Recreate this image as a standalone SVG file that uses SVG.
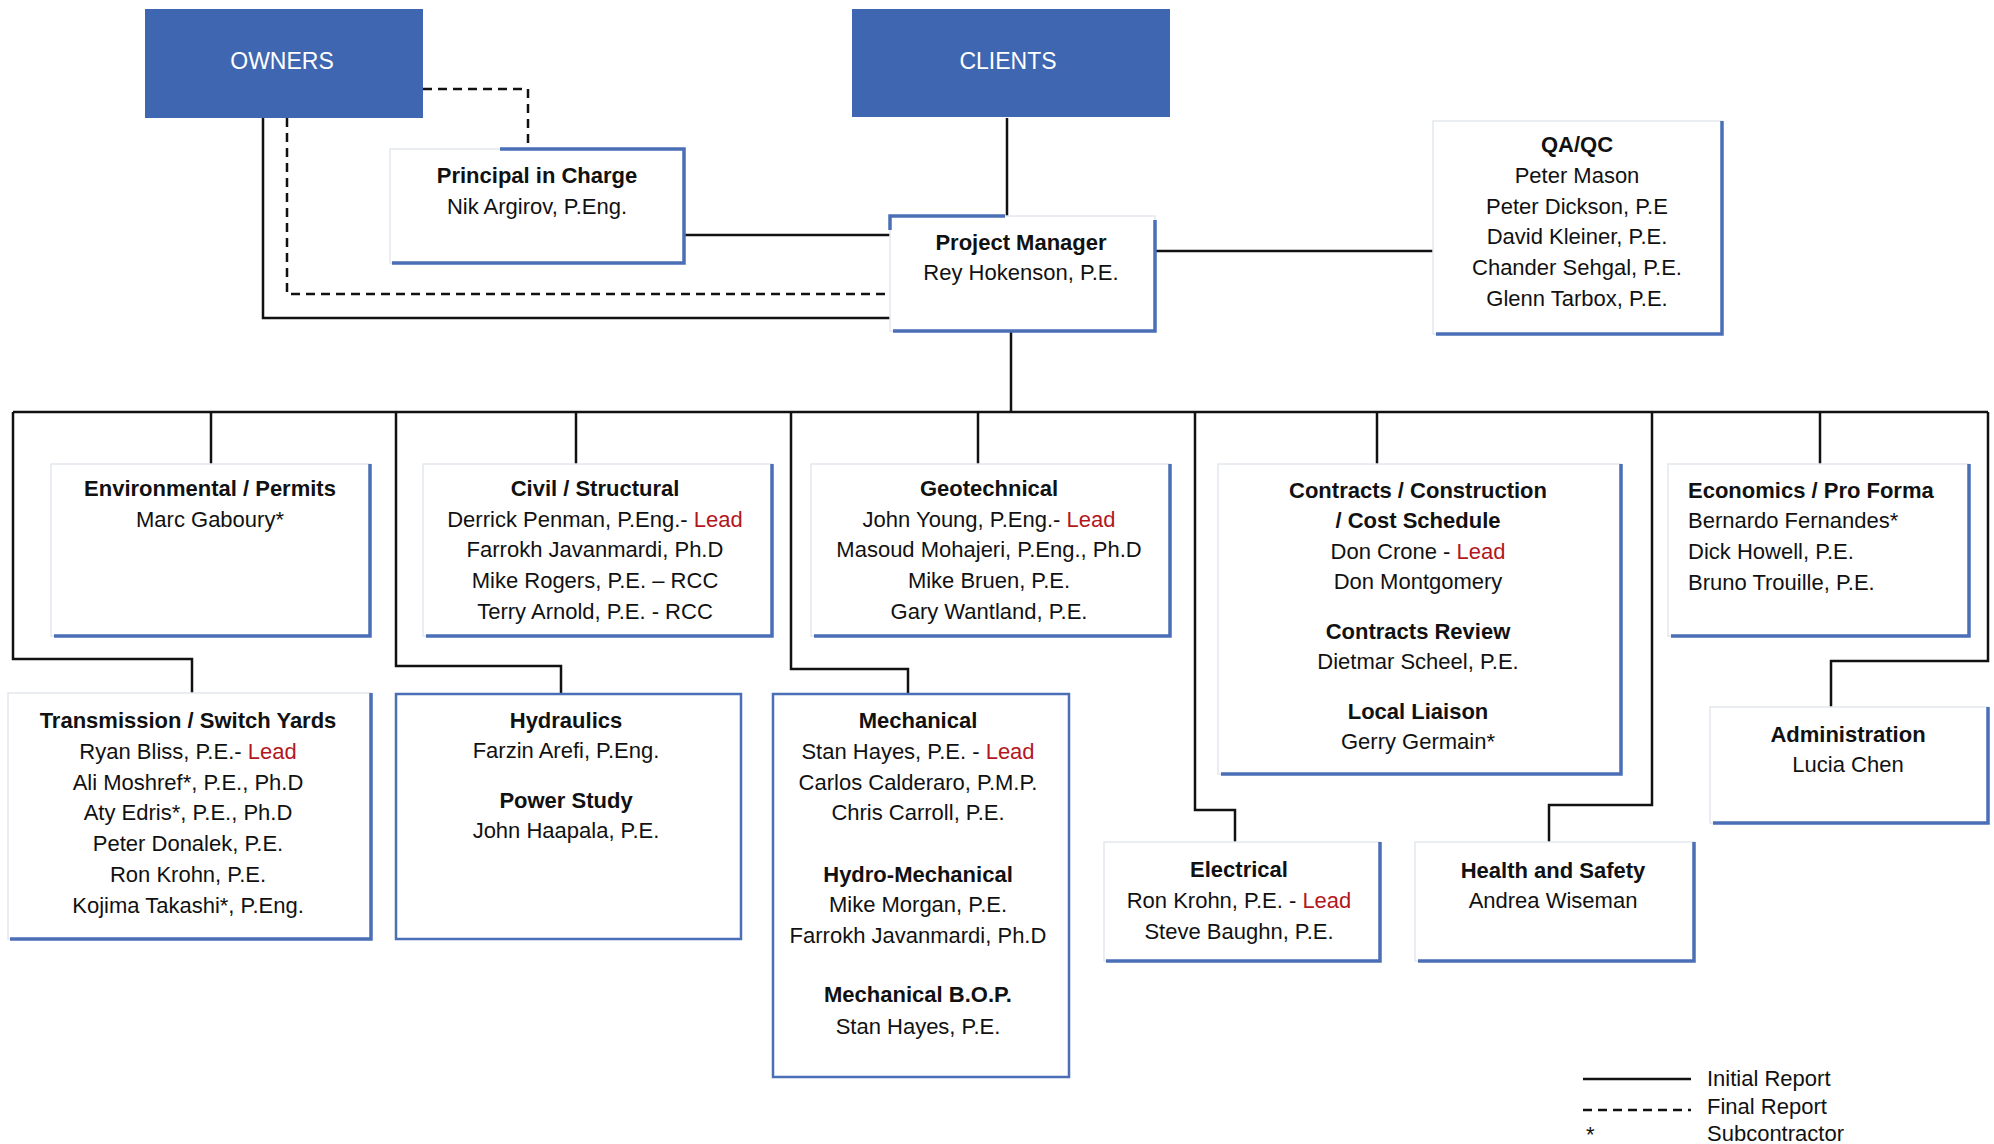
<svg xmlns="http://www.w3.org/2000/svg" width="1994" height="1144" viewBox="0 0 1994 1144">
<style>
.bg{fill:#ffffff}
.top{fill:#3f66b0}
.toptxt{font-family:"Liberation Sans",Arial,sans-serif;font-size:23px;fill:#ffffff;text-anchor:middle}
.box{fill:#ffffff;stroke:#e4e7ee;stroke-width:1.5}
.edge{fill:none;stroke:#4b6fb6;stroke-width:3.5}
.frame{fill:#ffffff;stroke:#4b6fb6;stroke-width:2.5}
.t{font-family:"Liberation Sans",Arial,sans-serif;font-size:22px;fill:#111111;text-anchor:middle}
.b{font-weight:bold}
.l{text-anchor:start}
.lead{fill:#b3171d}
.ln{fill:none;stroke:#111111;stroke-width:2.5}
.dash{fill:none;stroke:#111111;stroke-width:2.5;stroke-dasharray:9 6}
</style>
<rect class="bg" x="0" y="0" width="1994" height="1144"/>

<g id="connectors">
<path class="ln" d="M263,118 V318 H890"/>
<path class="dash" d="M287,118 V294 H890"/>
<path class="dash" d="M423,89 H528 V149"/>
<path class="ln" d="M684,235 H890"/>
<path class="ln" d="M1007,118 V216"/>
<path class="ln" d="M1155,251 H1433"/>
<path class="ln" d="M1011,331 V412"/>
<path class="ln" d="M13,412 H1988"/>
<path class="ln" d="M211,412 V464"/>
<path class="ln" d="M576,412 V464"/>
<path class="ln" d="M978,412 V464"/>
<path class="ln" d="M1377,412 V464"/>
<path class="ln" d="M1820,412 V464"/>
<path class="ln" d="M13,412 V659 H192 V693"/>
<path class="ln" d="M396,412 V666 H561 V694"/>
<path class="ln" d="M791,412 V669 H908 V694"/>
<path class="ln" d="M1195,412 V810 H1235 V842"/>
<path class="ln" d="M1652,412 V805 H1549 V842"/>
<path class="ln" d="M1988,412 V661 H1831 V707"/>
</g>

<g id="owners">
<rect class="top" x="145" y="9" width="278" height="109"/>
<text class="toptxt" x="282" y="69">OWNERS</text>
</g>

<g id="clients">
<rect class="top" x="852" y="9" width="318" height="108"/>
<text class="toptxt" x="1008" y="69">CLIENTS</text>
</g>

<g id="principal">
<rect class="box" x="390" y="149" width="294" height="114"/>
<path class="edge" d="M500,149 H684 V263 H392"/>
<text class="t b" x="537" y="183">Principal in Charge</text>
<text class="t" x="537" y="214">Nik Argirov, P.Eng.</text>
</g>

<g id="project-manager">
<rect class="box" x="890" y="216" width="265" height="115"/>
<path class="edge" d="M890,230 V216 H1005"/>
<path class="edge" d="M1155,220 V331 H893"/>
<text class="t b" x="1021" y="250">Project Manager</text>
<text class="t" x="1021" y="280">Rey Hokenson, P.E.</text>
</g>

<g id="qaqc">
<rect class="box" x="1433" y="121" width="289" height="213"/>
<path class="edge" d="M1722,121 V334 H1436"/>
<text class="t b" x="1577" y="152">QA/QC</text>
<text class="t" x="1577" y="183">Peter Mason</text>
<text class="t" x="1577" y="214">Peter Dickson, P.E</text>
<text class="t" x="1577" y="244">David Kleiner, P.E.</text>
<text class="t" x="1577" y="275">Chander Sehgal, P.E.</text>
<text class="t" x="1577" y="306">Glenn Tarbox, P.E.</text>
</g>

<g id="environmental">
<rect class="box" x="51" y="464" width="319" height="172"/>
<path class="edge" d="M370,464 V636 H54"/>
<text class="t b" x="210" y="496">Environmental / Permits</text>
<text class="t" x="210" y="527">Marc Gaboury*</text>
</g>

<g id="civil">
<rect class="box" x="423" y="464" width="349" height="172"/>
<path class="edge" d="M772,464 V636 H426"/>
<text class="t b" x="595" y="496">Civil / Structural</text>
<text class="t" x="595" y="527">Derrick Penman, P.Eng.- <tspan class="lead">Lead</tspan></text>
<text class="t" x="595" y="557">Farrokh Javanmardi, Ph.D</text>
<text class="t" x="595" y="588">Mike Rogers, P.E. – RCC</text>
<text class="t" x="595" y="619">Terry Arnold, P.E. - RCC</text>
</g>

<g id="geotechnical">
<rect class="box" x="811" y="464" width="359" height="172"/>
<path class="edge" d="M1170,464 V636 H814"/>
<text class="t b" x="989" y="496">Geotechnical</text>
<text class="t" x="989" y="527">John Young, P.Eng.- <tspan class="lead">Lead</tspan></text>
<text class="t" x="989" y="557">Masoud Mohajeri, P.Eng., Ph.D</text>
<text class="t" x="989" y="588">Mike Bruen, P.E.</text>
<text class="t" x="989" y="619">Gary Wantland, P.E.</text>
</g>

<g id="contracts">
<rect class="box" x="1218" y="464" width="403" height="310"/>
<path class="edge" d="M1621,464 V774 H1221"/>
<text class="t b" x="1418" y="498">Contracts / Construction</text>
<text class="t b" x="1418" y="528">/ Cost Schedule</text>
<text class="t" x="1418" y="559">Don Crone - <tspan class="lead">Lead</tspan></text>
<text class="t" x="1418" y="589">Don Montgomery</text>
<text class="t b" x="1418" y="639">Contracts Review</text>
<text class="t" x="1418" y="669">Dietmar Scheel, P.E.</text>
<text class="t b" x="1418" y="719">Local Liaison</text>
<text class="t" x="1418" y="749">Gerry Germain*</text>
</g>

<g id="economics">
<rect class="box" x="1668" y="464" width="301" height="172"/>
<path class="edge" d="M1969,464 V636 H1671"/>
<text class="t b l" x="1688" y="498">Economics / Pro Forma</text>
<text class="t l" x="1688" y="528">Bernardo Fernandes*</text>
<text class="t l" x="1688" y="559">Dick Howell, P.E.</text>
<text class="t l" x="1688" y="590">Bruno Trouille, P.E.</text>
</g>

<g id="transmission">
<rect class="box" x="8" y="693" width="363" height="246"/>
<path class="edge" d="M371,693 V939 H10"/>
<text class="t b" x="188" y="728">Transmission / Switch Yards</text>
<text class="t" x="188" y="759">Ryan Bliss, P.E.- <tspan class="lead">Lead</tspan></text>
<text class="t" x="188" y="790">Ali Moshref*, P.E., Ph.D</text>
<text class="t" x="188" y="820">Aty Edris*, P.E., Ph.D</text>
<text class="t" x="188" y="851">Peter Donalek, P.E.</text>
<text class="t" x="188" y="882">Ron Krohn, P.E.</text>
<text class="t" x="188" y="913">Kojima Takashi*, P.Eng.</text>
</g>

<g id="hydraulics">
<rect class="frame" x="396" y="694" width="345" height="245"/>
<text class="t b" x="566" y="728">Hydraulics</text>
<text class="t" x="566" y="758">Farzin Arefi, P.Eng.</text>
<text class="t b" x="566" y="808">Power Study</text>
<text class="t" x="566" y="838">John Haapala, P.E.</text>
</g>

<g id="mechanical">
<rect class="frame" x="773" y="694" width="296" height="383"/>
<text class="t b" x="918" y="728">Mechanical</text>
<text class="t" x="918" y="759">Stan Hayes, P.E. - <tspan class="lead">Lead</tspan></text>
<text class="t" x="918" y="790">Carlos Calderaro, P.M.P.</text>
<text class="t" x="918" y="820">Chris Carroll, P.E.</text>
<text class="t b" x="918" y="882">Hydro-Mechanical</text>
<text class="t" x="918" y="912">Mike Morgan, P.E.</text>
<text class="t" x="918" y="943">Farrokh Javanmardi, Ph.D</text>
<text class="t b" x="918" y="1002">Mechanical B.O.P.</text>
<text class="t" x="918" y="1034">Stan Hayes, P.E.</text>
</g>

<g id="electrical">
<rect class="box" x="1104" y="842" width="276" height="119"/>
<path class="edge" d="M1380,842 V961 H1106"/>
<text class="t b" x="1239" y="877">Electrical</text>
<text class="t" x="1239" y="908">Ron Krohn, P.E. - <tspan class="lead">Lead</tspan></text>
<text class="t" x="1239" y="939">Steve Baughn, P.E.</text>
</g>

<g id="health-safety">
<rect class="box" x="1415" y="842" width="279" height="119"/>
<path class="edge" d="M1694,842 V961 H1418"/>
<text class="t b" x="1553" y="878">Health and Safety</text>
<text class="t" x="1553" y="908">Andrea Wiseman</text>
</g>

<g id="administration">
<rect class="box" x="1710" y="707" width="278" height="116"/>
<path class="edge" d="M1988,707 V823 H1713"/>
<text class="t b" x="1848" y="742">Administration</text>
<text class="t" x="1848" y="772">Lucia Chen</text>
</g>

<g id="legend">
<path class="ln" d="M1583,1079 H1691"/>
<path class="dash" d="M1583,1110 H1691"/>
<text class="t l" x="1586" y="1142">*</text>
<text class="t l" x="1707" y="1086">Initial Report</text>
<text class="t l" x="1707" y="1114">Final Report</text>
<text class="t l" x="1707" y="1141">Subcontractor</text>
</g>
</svg>
